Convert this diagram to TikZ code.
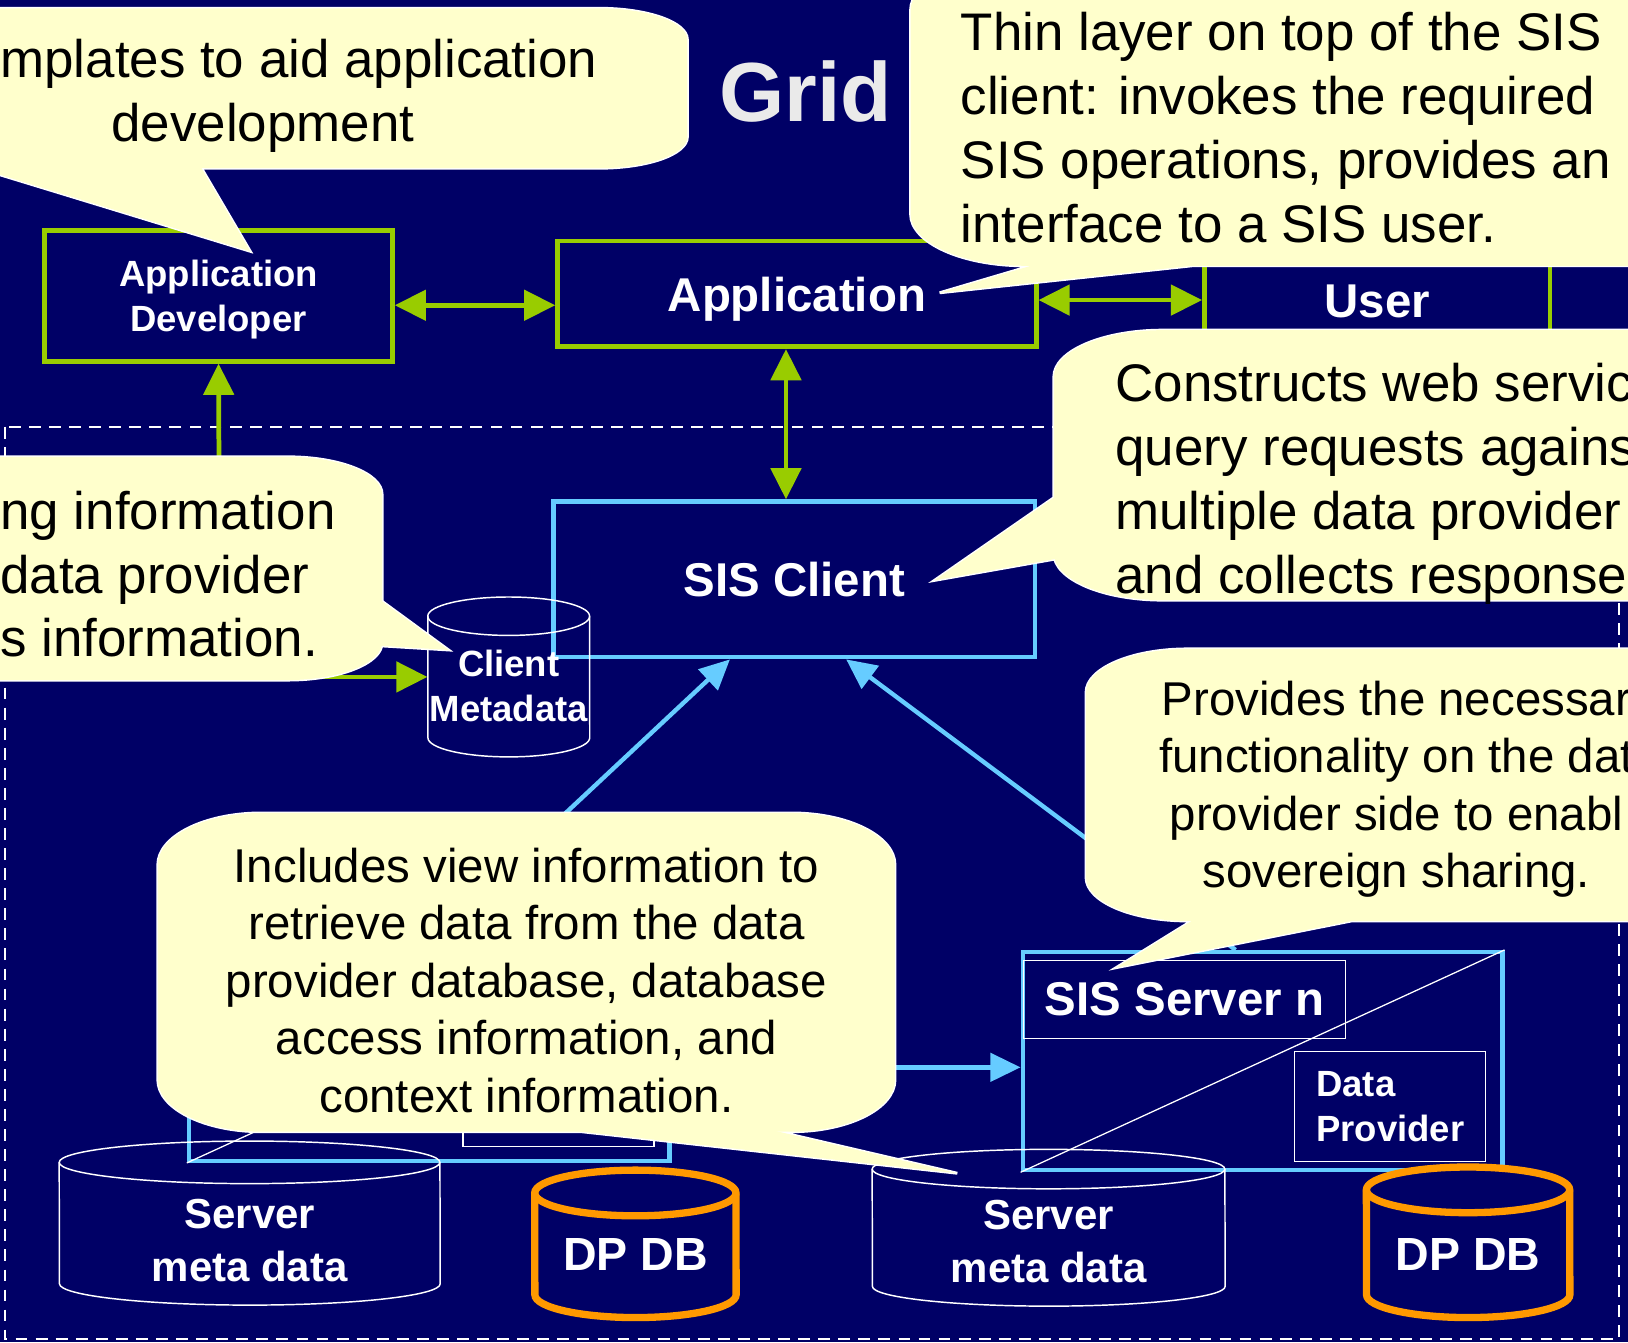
\documentclass[tikz,border=0pt]{standalone}
\usepackage{fontspec}
\setmainfont{Liberation Sans}
\usetikzlibrary{arrows.meta}

\definecolor{slidenavy}{RGB}{0,0,102}
\definecolor{sisgreen}{RGB}{153,204,0}
\definecolor{sisblue}{RGB}{102,204,255}
\definecolor{dborange}{RGB}{255,153,0}
\definecolor{noteyellow}{RGB}{255,255,204}
\definecolor{titlegray}{RGB}{234,234,234}

% Font sizes
\newcommand{\bigbold}{\bfseries\fontsize{26}{31}\selectfont}
\newcommand{\smallbold}{\bfseries\fontsize{20}{24.5}\selectfont}
\newcommand{\metafont}{\bfseries\fontsize{23}{29}\selectfont}
\newcommand{\dpfont}{\bfseries\fontsize{25.5}{30}\selectfont}
\newcommand{\notefont}{\fontsize{29}{35}\selectfont}
\newcommand{\notesmall}{\fontsize{26}{31.5}\selectfont}
\newcommand{\titlefont}{\bfseries\fontsize{46}{55}\selectfont}

\tikzset{
  greenbox/.style={draw=sisgreen, line width=2.6pt, text=white, font=\bigbold, align=center, inner sep=0pt},
  bluebox/.style={draw=sisblue, line width=2.4pt, text=white, font=\bigbold, align=center, inner sep=0pt},
  thinbox/.style={draw=white, line width=0.7pt, text=white, font=\bigbold, inner sep=0pt},
  thinline/.style={draw=white, line width=0.7pt},
  garrow/.style={draw=sisgreen, line width=2.6pt, >={Triangle[length=0.6cm,width=0.58cm]}},
  barrow/.style={draw=sisblue, line width=2.4pt, >={Triangle[length=0.58cm,width=0.54cm]}},
  dbline/.style={draw=white, line width=0.8pt},
  dporange/.style={draw=dborange, line width=4pt, fill=slidenavy},
  dblabel/.style={text=white, align=center, inner sep=0pt},
  frame/.style={draw=white, line width=1pt, dash pattern=on 6.5pt off 4.5pt},
  noterim/.style={draw=white, line width=1.6pt},
  notefill/.style={fill=noteyellow},
  notetext/.style={text=black, font=\notefont, inner sep=0pt},
  notesmalltext/.style={text=black, font=\notesmall, inner sep=0pt, align=center}
}

% Bubble body: x1, y1, x2, y2, corner x radius, corner y radius
\newcommand{\notepath}[6]{(#1+#5,#2) -- (#3-#5,#2)
  arc[start angle=90,end angle=0,x radius=#5*0.02cm,y radius=#6*0.02cm]
  -- (#3,#4-#6)
  arc[start angle=0,end angle=-90,x radius=#5*0.02cm,y radius=#6*0.02cm]
  -- (#1+#5,#4)
  arc[start angle=270,end angle=180,x radius=#5*0.02cm,y radius=#6*0.02cm]
  -- (#1,#2+#6)
  arc[start angle=180,end angle=90,x radius=#5*0.02cm,y radius=#6*0.02cm] -- cycle}

% Callout: body as above, #7 = tail points
\newcommand{\callout}[7]{%
  \draw[noterim] \notepath{#1}{#2}{#3}{#4}{#5}{#6} #7 -- cycle;
  \fill[notefill] \notepath{#1}{#2}{#3}{#4}{#5}{#6};
  \fill[notefill] #7 -- cycle;
}

% Database drum: centre x, top y, width, height, ellipse y radius
\newcommand{\dbcyl}[6][]{%
  \draw[dbline,#1] (#2-#4/2,#3+#6)
    arc[start angle=180,end angle=0,x radius=#4*0.01cm,y radius=#6*0.02cm]
    -- (#2+#4/2,#3+#5-#6)
    arc[start angle=0,end angle=-180,x radius=#4*0.01cm,y radius=#6*0.02cm] -- cycle;
  \draw[dbline,#1,fill=none] (#2-#4/2,#3+#6)
    arc[start angle=180,end angle=360,x radius=#4*0.01cm,y radius=#6*0.02cm];
}

\begin{document}
\begin{tikzpicture}[x=0.02cm,y=-0.02cm]
  \useasboundingbox (0,0) rectangle (1568,1293);
  \clip (0,0) rectangle (1568,1293);
  \fill[slidenavy] (0,0) rectangle (1568,1293);

  % Grid boundary
  \draw[frame] (5,411) rectangle (1559,1290);

  % Top row
  \node[greenbox, font=\smallbold, text depth=0pt, minimum width=6.7cm, minimum height=2.52cm] (appdev) at (210.5,285) {Application\\Developer};
  \node[greenbox, text depth=0pt, minimum width=9.22cm, minimum height=2.04cm] (app) at (767.5,283) {Application};
  \node[greenbox, minimum width=6.66cm, minimum height=2.32cm] (user) at (1326.5,290) {User};

  % Client side
  \node[bluebox, minimum width=9.28cm, minimum height=3.0cm] (sisclient) at (765,558) {SIS Client};

  % Servers
  \node[bluebox, minimum width=9.26cm, minimum height=4.2cm] (srv1) at (413.5,1013) {};
  \node[thinbox, minimum width=6.2cm, minimum height=1.5cm] (srv1lab) at (338.5,953.5) {};
  \node[thinbox, minimum width=3.68cm, minimum height=2.12cm] (srv1dp) at (538,1051) {};
  \draw[thinline] (srv1.south west) -- (srv1.north east);

  \node[bluebox, minimum width=9.24cm, minimum height=4.2cm] (srvn) at (1216,1022) {};
  \node[thinbox, minimum width=6.2cm, minimum height=1.5cm] (srvnlab) at (1141,962.5) {SIS Server n};
  \node[thinbox, font=\smallbold, align=left, minimum width=3.68cm, minimum height=2.12cm] (srvndp) at (1339,1066) {Data\\Provider};
  \draw[thinline] (srvn.south west) -- (srvn.north east);

  % Databases
  \dbcyl{490}{575}{156}{154}{18.5}
  \node[dblabel, font=\smallbold, minimum width=3.12cm] (cmeta) at (490,661) {Client\\Metadata};
  \dbcyl{240.5}{1099}{367}{158}{20.5}
  \node[dblabel, font=\metafont] (smeta1) at (240.5,1195) {Server\\meta data};
  \dbcyl[dporange]{612}{1127}{194}{142}{22}
  \node[dblabel, font=\dpfont] (dpdb1) at (612,1208) {DP DB};
  \dbcyl{1010}{1107}{340}{151}{19}
  \node[dblabel, font=\metafont] (smeta2) at (1010,1196) {Server\\meta data};
  \dbcyl[dporange]{1414}{1124}{196}{145}{22}
  \node[dblabel, font=\dpfont] (dpdb2) at (1414,1208) {DP DB};

  % Green links
  \coordinate (devlink) at (211,470);
  \coordinate (metalink) at (300,652);
  \draw[garrow,<->] ([yshift=-0.18cm]appdev.east) -- ([yshift=-0.18cm]appdev.east -| app.west);
  \draw[garrow,<->] ([yshift=-0.12cm]app.east) -- ([yshift=-0.12cm]app.east -| user.west);
  \draw[garrow,<->] ([xshift=-0.21cm]app.south) -- ([xshift=-0.21cm]app.south |- sisclient.north);
  \draw[garrow,->] (devlink) -- (appdev.south);
  \draw[garrow,->] (metalink) -- (metalink -| cmeta.west);

  % Blue links
  \draw[barrow,->] (srv1.north) -- ([xshift=-1.24cm]sisclient.south);
  \draw[barrow,->] ([xshift=-0.52cm]srvn.north) -- ([xshift=1.0cm]sisclient.south);
  \draw[barrow,->] ([yshift=-0.3cm]srv1.east) -- ([yshift=-0.3cm]srv1.east -| srvn.west);

  % Callouts
  \callout{-120}{8}{662}{162}{85}{30}{(-60,150) -- (187,150) -- (241,242)}
  \node[notetext, anchor=west, align=left] (devnote) at (0,92) {mplates to aid application\\\hspace*{2.1em}development};

  \callout{877}{-40}{1700}{256}{110}{50}{(1020,248) -- (905,282) -- (1204,250)}
  \node[notetext, anchor=west, align=left] (clientnote) at (925,123) {Thin layer on top of the SIS\\client: invokes the required\\SIS operations, provides an\\interface to a SIS user.};

  \callout{1015}{318}{1700}{578}{105}{45}{(1030,469) -- (900,559) -- (1030,536)}
  \node[notetext, anchor=west, align=left] (querynote) at (1074,466) {Constructs web servic\\query requests agains\\multiple data provider\\and collects response};

  \callout{-120}{440}{368}{655}{91}{36}{(350,566) -- (432,626) -- (350,621)}
  \node[notetext, anchor=west, align=left] (bindnote) at (0,553) {ng information\\data provider\\s information.};

  \callout{152}{783}{862}{1090}{100}{50}{(470,1080) -- (922,1130) -- (707,1080)}
  \node[notesmalltext] (viewnote) at (507,944) {Includes view information to\\retrieve data from the data\\provider database, database\\access information, and\\context information.};

  \callout{1046}{625}{1700}{887}{98}{42}{(1159,880) -- (1075,932) -- (1337,880)}
  \node[notesmalltext] (dpnote) at (1345,760) {Provides the necessar\\functionality on the dat\\provider side to enabl\\sovereign sharing.};

  % Title
  \node[text=titlegray, font=\titlefont, inner sep=0pt] (grid) at (776,88) {Grid};
\end{tikzpicture}
\end{document}
